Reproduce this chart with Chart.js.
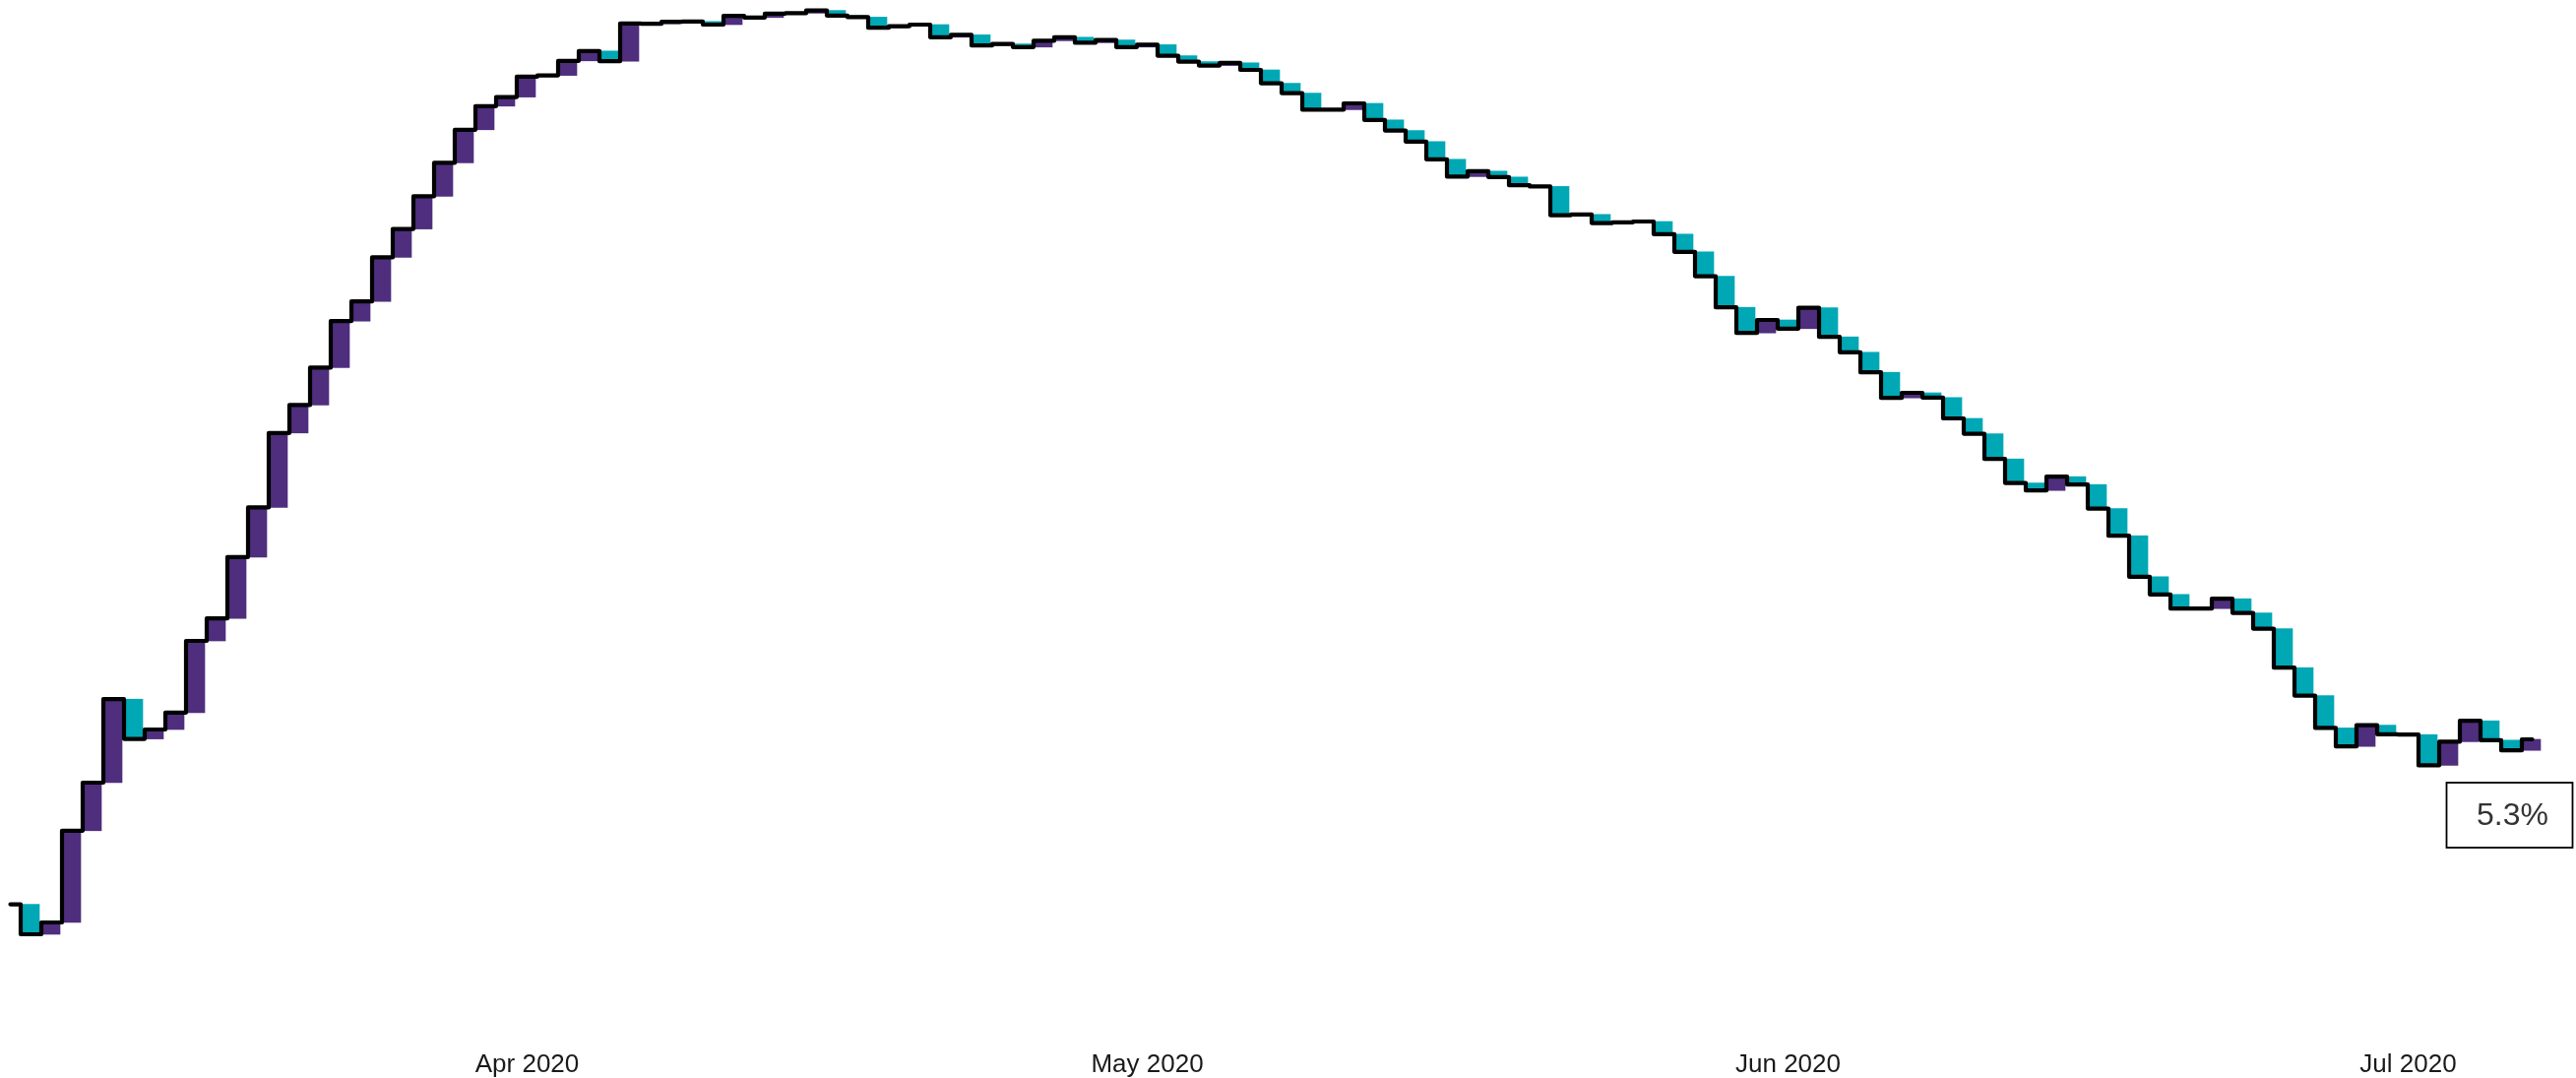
<!DOCTYPE html>
<html>
<head>
<meta charset="utf-8">
<script src="https://cdn.jsdelivr.net/npm/chart.js@4/dist/chart.umd.min.js"></script>
<style>
html,body{margin:0;padding:0;background:#fff;}
canvas{display:block;}
</style>
</head>
<body>
<canvas id="c" width="2617" height="1095"></canvas>
<script>
// Categories: one per day, 7 Mar 2020 - 7 Jul 2020
const dates = [
"2020-03-07","2020-03-08","2020-03-09","2020-03-10","2020-03-11","2020-03-12","2020-03-13","2020-03-14","2020-03-15","2020-03-16",
"2020-03-17","2020-03-18","2020-03-19","2020-03-20","2020-03-21","2020-03-22","2020-03-23","2020-03-24","2020-03-25","2020-03-26",
"2020-03-27","2020-03-28","2020-03-29","2020-03-30","2020-03-31",
"2020-04-01","2020-04-02","2020-04-03","2020-04-04","2020-04-05","2020-04-06","2020-04-07","2020-04-08","2020-04-09","2020-04-10",
"2020-04-11","2020-04-12","2020-04-13","2020-04-14","2020-04-15","2020-04-16","2020-04-17","2020-04-18","2020-04-19","2020-04-20",
"2020-04-21","2020-04-22","2020-04-23","2020-04-24","2020-04-25","2020-04-26","2020-04-27","2020-04-28","2020-04-29","2020-04-30",
"2020-05-01","2020-05-02","2020-05-03","2020-05-04","2020-05-05","2020-05-06","2020-05-07","2020-05-08","2020-05-09","2020-05-10",
"2020-05-11","2020-05-12","2020-05-13","2020-05-14","2020-05-15","2020-05-16","2020-05-17","2020-05-18","2020-05-19","2020-05-20",
"2020-05-21","2020-05-22","2020-05-23","2020-05-24","2020-05-25","2020-05-26","2020-05-27","2020-05-28","2020-05-29","2020-05-30",
"2020-05-31",
"2020-06-01","2020-06-02","2020-06-03","2020-06-04","2020-06-05","2020-06-06","2020-06-07","2020-06-08","2020-06-09","2020-06-10",
"2020-06-11","2020-06-12","2020-06-13","2020-06-14","2020-06-15","2020-06-16","2020-06-17","2020-06-18","2020-06-19","2020-06-20",
"2020-06-21","2020-06-22","2020-06-23","2020-06-24","2020-06-25","2020-06-26","2020-06-27","2020-06-28","2020-06-29","2020-06-30",
"2020-07-01","2020-07-02","2020-07-03","2020-07-04","2020-07-05","2020-07-06","2020-07-07"
];

// Daily value (%)
const values = [
1.11, 0.35, 0.65, 2.98, 4.20, 6.32, 5.31, 5.55, 5.98, 7.80,
8.37, 9.93, 11.19, 13.08, 13.79, 14.74, 15.92, 16.42, 17.54, 18.26,
19.09, 19.94, 20.78, 21.38, 21.61,
22.13, 22.16, 22.53, 22.78, 22.52, 23.48, 23.47, 23.52, 23.53, 23.45,
23.67, 23.63, 23.73, 23.74, 23.81, 23.68, 23.64, 23.37, 23.41, 23.45,
23.13, 23.19, 22.92, 22.96, 22.88, 23.04, 23.13, 22.99, 23.06, 22.88,
22.94, 22.66, 22.51, 22.41, 22.48, 22.30, 21.96, 21.71, 21.29, 21.29,
21.45, 21.03, 20.76, 20.48, 20.03, 19.59, 19.73, 19.58, 19.37, 19.34,
18.61, 18.63, 18.41, 18.43, 18.45, 18.13, 17.68, 17.06, 16.27, 15.62,
15.95,
15.73, 16.26, 15.52, 15.13, 14.62, 13.97, 14.10, 13.98, 13.45, 13.06,
12.42, 11.81, 11.62, 11.97, 11.77, 11.16, 10.47, 9.43, 8.98, 8.62,
8.62, 8.87, 8.51, 8.11, 7.12, 6.41, 5.59, 5.12, 5.66, 5.43,
5.42, 4.64, 5.24, 5.77, 5.28, 5.02, 5.30
];

// X-axis tick labels
const tickDates  = ["2020-04-01", "2020-05-01", "2020-06-01", "2020-07-01"];
const tickLabels = ["Apr 2020", "May 2020", "Jun 2020", "Jul 2020"];

const upColor = '#4F2E7E';
const downColor = '#00A8B5';

const changeBars = values.map((v, i) => i === 0 ? null : [values[i - 1], v]);
const barColors = values.map((v, i) => (i === 0 || v >= values[i - 1]) ? upColor : downColor);

const lastLabel = {
  id: 'lastLabel',
  afterDatasetsDraw(chart) {
    const n = values.length - 1;
    const xs = chart.scales.x.getPixelForValue(n);
    const ys = chart.scales.y.getPixelForValue(values[n]);
    const ctx = chart.ctx;
    const w = 128, h = 66;
    const left = xs - 87, top = ys + 44;
    ctx.save();
    ctx.fillStyle = '#ffffff';
    ctx.fillRect(left, top, w, h);
    ctx.lineWidth = 1.8;
    ctx.strokeStyle = '#000000';
    ctx.strokeRect(left, top, w, h);
    ctx.fillStyle = '#333333';
    ctx.font = '32px "Liberation Sans", Arial, sans-serif';
    ctx.textAlign = 'center';
    ctx.textBaseline = 'middle';
    ctx.fillText(values[n].toFixed(1) + '%', left + w / 2 + 3, top + h / 2 + 1);
    ctx.restore();
  }
};

new Chart(document.getElementById('c'), {
  type: 'bar',
  data: {
    labels: dates,
    datasets: [
      {
        type: 'bar',
        data: changeBars,
        backgroundColor: barColors,
        borderWidth: 0,
        barThickness: 17,
        grouped: false,
        order: 2
      },
      {
        type: 'line',
        data: values,
        stepped: 'middle',
        borderColor: '#000000',
        borderWidth: 4.2,
        borderJoinStyle: 'round',
        borderCapStyle: 'round',
        pointRadius: 0,
        fill: false,
        order: 1
      }
    ]
  },
  options: {
    responsive: false,
    animation: false,
    devicePixelRatio: 1,
    layout: { padding: { left: 0, right: 34, top: 3, bottom: 0 } },
    plugins: { legend: { display: false }, tooltip: { enabled: false } },
    scales: {
      x: {
        type: 'category',
        offset: true,
        grid: { display: true, drawOnChartArea: false, drawTicks: true, tickLength: 20, color: 'rgba(0,0,0,0)' },
        border: { display: false },
        afterFit: function (scale) { scale.height = 52; },
        ticks: {
          autoSkip: false,
          maxRotation: 0,
          minRotation: 0,
          padding: 3,
          color: '#1a1a1a',
          font: { family: '"Liberation Sans", Arial, sans-serif', size: 26, lineHeight: 1.2 },
          callback: function (val, idx) {
            const k = tickDates.indexOf(dates[idx]);
            return k >= 0 ? tickLabels[k] : '';
          }
        }
      },
      y: { display: false, min: -2, max: 24 }
    }
  },
  plugins: [lastLabel]
});
</script>
</body>
</html>
